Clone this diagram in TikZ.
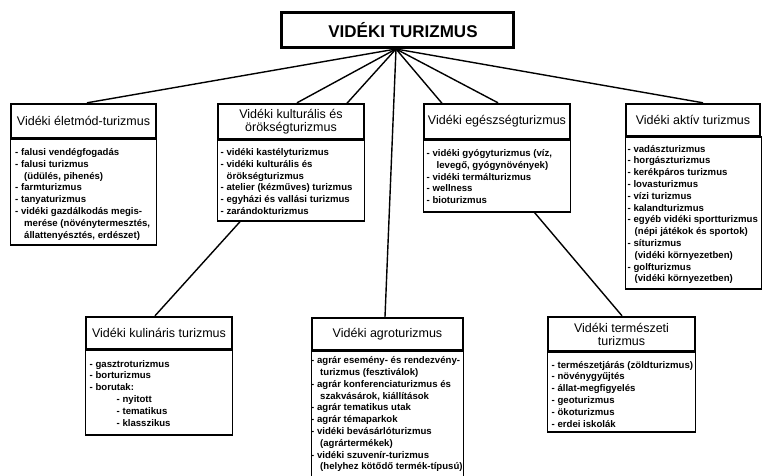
\documentclass[tikz,border=0pt]{standalone}
\usepackage{fontspec}
\setmainfont{Liberation Sans}
\usetikzlibrary{backgrounds}
\newcommand{\fstrut}{\rule{0pt}{8pt}}
\newcommand{\hind}[1]{\hspace*{#1pt}}
\tikzset{
  topbox/.style={draw, line width=3pt, fill=white, inner sep=0pt,
    minimum width=232pt, minimum height=35pt,
    font=\bfseries\fontsize{17}{20}\selectfont},
  hdr/.style={draw, line width=2.4pt, fill=white, inner sep=0pt, align=center,
    font=\fontsize{12.5}{13}\selectfont},
  lbox/.style={draw, line width=1.3pt, fill=white},
  ltext/.style={anchor=north west, inner sep=0pt, align=left,
    font=\bfseries\fontsize{9.6}{11.8}\selectfont},
  conn/.style={line width=1.4pt}
}
\begin{document}
\begin{tikzpicture}[x=1pt,y=-1pt]
\useasboundingbox (0,0) rectangle (763,475);

% top
\node[topbox] (top) at (397.5,30) {\hspace*{11pt}VIDÉKI TURIZMUS};
\coordinate (hub) at (top.south -| 396,0);

% list boxes
\draw[lbox] (10.5,139) rectangle (156.5,245);
\draw[lbox] (217.5,140) rectangle (364.5,221);
\draw[lbox] (423.5,140) rectangle (570.5,212);
\draw[lbox] (625.5,137) rectangle (761.5,289);
\draw[lbox] (85.5,350) rectangle (232.5,435);
\draw[lbox] (311.5,351) rectangle (463.5,480);
\draw[lbox] (547.5,352) rectangle (695.5,432);

% headers
\node[hdr, minimum width=145pt, minimum height=34pt] (elet) at (83.5,121) {Vidéki életmód-turizmus};
\node[hdr, minimum width=146pt, minimum height=35pt] (kult) at (291,121.5) {Vidéki kulturális és\\örökségturizmus};
\node[hdr, minimum width=146pt, minimum height=35pt] (egesz) at (497,121.5) {Vidéki egészségturizmus};
\node[hdr, minimum width=134pt, minimum height=32pt] (aktiv) at (693,120) {Vidéki aktív turizmus};
\node[hdr, minimum width=146pt, minimum height=32pt] (kuli) at (159,333) {Vidéki kulináris turizmus};
\node[hdr, minimum width=151pt, minimum height=32pt] (agro) at (387.5,334) {Vidéki agroturizmus};
\node[hdr, minimum width=147pt, minimum height=34pt] (term) at (621.5,334) {Vidéki természeti\\turizmus};

% list texts
\node[ltext] (eletL) at (15,147.2) {\fstrut- falusi vendégfogadás\\
- falusi turizmus\\
\hind{9}(üdülés, pihenés)\\
- farmturizmus\\
- tanyaturizmus\\
- vidéki gazdálkodás megis-\\
\hind{9}merése (növénytermesztés,\\
\hind{9}állattenyésztés, erdészet)};

\node[ltext] (kultL) at (220.5,147.2) {\fstrut- vidéki kastélyturizmus\\
- vidéki kulturális és\\
\hind{6}örökségturizmus\\
- atelier (kézműves) turizmus\\
- egyházi és vallási turizmus\\
- zarándokturizmus};

\node[ltext] (egeszL) at (426.5,148.2) {\fstrut- vidéki gyógyturizmus (víz,\\
\hind{10}levegő, gyógynövények)\\
- vidéki termálturizmus\\
- wellness\\
- bioturizmus};

\node[ltext] (aktivL) at (627.5,143.8) {\fstrut- vadászturizmus\\
- horgászturizmus\\
- kerékpáros turizmus\\
- lovasturizmus\\
- vízi turizmus\\
- kalandturizmus\\
- egyéb vidéki sportturizmus\\
\hind{7}(népi játékok és sportok)\\
- síturizmus\\
\hind{7}(vidéki környezetben)\\
- golfturizmus\\
\hind{7}(vidéki környezetben)};

\node[ltext] (kuliL) at (89.5,358.8) {\fstrut- gasztroturizmus\\
- borturizmus\\
- borutak:\\
\hind{27}- nyitott\\
\hind{27}- tematikus\\
\hind{27}- klasszikus};

\node[ltext] (agroL) at (311,355.5) {\fstrut- agrár esemény- és rendezvény-\\
\hind{9}turizmus (fesztiválok)\\
- agrár konferenciaturizmus és\\
\hind{9}szakvásárok, kiállítások\\
- agrár tematikus utak\\
- agrár témaparkok\\
- vidéki bevásárlóturizmus\\
\hind{9}(agrártermékek)\\
- vidéki szuvenír-turizmus\\
\hind{9}(helyhez kötődő termék-típusú)};

\node[ltext] (termL) at (551.5,359.8) {\fstrut- természetjárás (zöldturizmus)\\
- növénygyűjtés\\
- állat-megfigyelés\\
- geoturizmus\\
- ökoturizmus\\
- erdei iskolák};

% connectors
\begin{pgfonlayer}{background}
\draw[conn] (hub) -- (elet.north -| 87,0);
\draw[conn] (hub) -- (kult.north -| 297,0);
\draw[conn] (hub) -- (kuli.north -| 155,0);
\draw[conn] (hub) -- (agro.north -| 385,0);
\draw[conn] (hub) -- (egesz.north -| 498,0);
\draw[conn] (hub) -- (term.north -| 622,0);
\draw[conn] (hub) -- (aktiv.north -| 703,0);
\end{pgfonlayer}
\end{tikzpicture}
\end{document}
